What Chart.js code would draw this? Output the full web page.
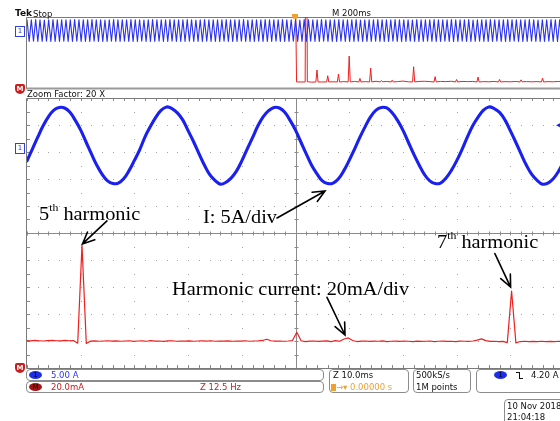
<!DOCTYPE html>
<html><head><meta charset="utf-8">
<script src="https://cdn.jsdelivr.net/npm/chart.js@4.4.0/dist/chart.umd.min.js"></script>
<style>
html,body{margin:0;padding:0;background:#fff;}
#page{position:relative;width:560px;height:421px;overflow:hidden;background:#fff;font-family:'DejaVu Sans',sans-serif;}
canvas{position:absolute;}
.t{position:absolute;white-space:nowrap;line-height:1;font-size:8.5px;color:#111;z-index:5;}
.ann{position:absolute;white-space:nowrap;line-height:1;font-family:'Liberation Serif','Times New Roman',serif;font-size:19px;color:#000;transform:scaleX(1.07);transform-origin:0 0;z-index:5;}
.sup{font-size:11px;position:relative;top:-9px;}
.box{position:absolute;border:1px solid #8c8c8c;border-radius:4px;box-sizing:border-box;z-index:4;}
.ell{position:absolute;width:13px;height:8px;border-radius:50%;font-size:7px;line-height:8px;text-align:center;z-index:6;}
.mk1{position:absolute;width:8px;height:9px;border:1px solid #3040e0;background:#fff;color:#3040e0;font-size:7px;line-height:9px;text-align:center;z-index:6;}
.mkM{position:absolute;width:10px;height:10px;background:#c81e1e;color:#fff;font-size:7px;font-weight:bold;line-height:10px;text-align:center;border-radius:2px 2px 5px 5px;z-index:6;}
</style></head>
<body>
<div id="page">
<canvas id="ov" width="547" height="81" style="left:22px;top:12px;"></canvas>
<canvas id="mn" width="547" height="280" style="left:22px;top:93px;"></canvas>

<div class="t" style="left:15px;top:9px;font-size:9px;font-weight:bold;">Tek</div>
<div class="t" style="left:33px;top:9.5px;">Stop</div>
<div class="t" style="left:332px;top:8.5px;">M 200ms</div>
<div class="t" style="left:27px;top:89.5px;">Zoom Factor: 20 X</div>
<div style="position:absolute;left:292px;top:14px;width:6px;height:5px;background:#f0a030;border-radius:0 0 3px 3px;z-index:6;"></div>

<div class="mk1" style="left:15px;top:26px;">1</div>
<div class="mkM" style="left:15px;top:84px;">M</div>
<div class="mk1" style="left:15px;top:143px;">1</div>
<div class="mkM" style="left:15px;top:363px;">M</div>

<div class="ann" style="left:39px;top:204px;">5<span class="sup">th</span> harmonic</div>
<div class="ann" style="left:203px;top:207px;">I: 5A/div</div>
<div class="ann" style="left:172px;top:279px;">Harmonic current: 20mA/div</div>
<div class="ann" style="left:437px;top:232px;">7<span class="sup">th</span> harmonic</div>

<div class="box" style="left:26px;top:369px;width:298px;height:12px;"></div>
<div class="box" style="left:26px;top:381px;width:298px;height:12px;"></div>
<div class="ell" style="left:29px;top:371px;background:#1e2ee8;color:#001;">1</div>
<div class="t" style="left:51px;top:370.5px;color:#2a32ee;">5.00 A</div>
<div class="ell" style="left:29px;top:383px;background:#a01515;color:#200;">M</div>
<div class="t" style="left:51px;top:383px;color:#c02020;">20.0mA</div>
<div class="t" style="left:200px;top:383px;color:#c02020;">Z 12.5 Hz</div>

<div class="box" style="left:329px;top:369px;width:80px;height:24px;"></div>
<div class="t" style="left:333px;top:370.5px;">Z 10.0ms</div>
<div style="position:absolute;left:331px;top:384px;width:5px;height:7px;background:#f0a030;z-index:6;"></div>
<div class="t" style="left:336px;top:383px;color:#f0a030;">→▾</div>
<div class="t" style="left:350px;top:383px;color:#f0a030;">0.00000 s</div>

<div class="box" style="left:413px;top:369px;width:58px;height:24px;"></div>
<div class="t" style="left:416px;top:370.5px;">500kS/s</div>
<div class="t" style="left:416px;top:383px;">1M points</div>

<div class="box" style="left:476px;top:369px;width:100px;height:24px;"></div>
<div class="ell" style="left:494px;top:371px;background:#1e2ee8;color:#001;">1</div>
<div style="position:absolute;left:516px;top:372px;width:3px;height:6px;border-top:1px solid #111;border-right:1px solid #111;z-index:6;"></div>
<div style="position:absolute;left:520px;top:378px;width:3px;height:0;border-top:1px solid #111;z-index:6;"></div>
<div class="t" style="left:531px;top:370.5px;">4.20 A</div>

<div class="box" style="left:504px;top:399px;width:70px;height:30px;"></div>
<div class="t" style="left:507px;top:401.5px;">10 Nov 2018</div>
<div class="t" style="left:507px;top:412.5px;">21:04:18</div>
</div>

<script>
// ---- Data ----
// Overview (M 200 ms/div): channel 1 current samples, A (aliased display)
const ovCurrentA = [
7.3,-7.9,7.2,-7.8,7.4,-8.0,7.3,-7.9,7.1,-7.8,7.3,-7.9,7.4,-8.0,7.2,-7.9,7.3,-7.8,7.3,-7.9,
7.2,-8.0,7.4,-7.8,7.3,-7.9,7.2,-7.9,7.3,-8.0,7.4,-7.8,7.2,-7.9,7.3,-7.9,7.1,-8.0,7.3,-7.8,
7.4,-7.9,7.2,-8.0,7.3,-7.8,7.3,-7.9,7.4,-7.9,7.2,-8.0,7.3,-7.8,7.1,-7.9,7.3,-8.0,7.4,-7.9,
7.2,-7.8,7.3,-7.9,7.3,-8.0,7.4,-7.8,7.2,-7.9,7.3,-7.9,7.2,-8.0,7.4,-7.8,7.3,-7.9,7.1,-7.9,
7.3,-8.0,7.4,-7.8,7.2,-7.9,7.3,-7.9,7.3,-8.0,7.2,-7.8,7.4,-7.9,7.3,-8.0,7.2,-7.9,7.3,-7.8,
7.4,-7.9,7.1,-8.0,7.3,-7.9,7.3,-7.8,7.2,-7.9,7.4,-8.0,7.3,-7.9,7.2,-7.8,7.3,-7.9,7.4,-8.0,
7.2,-7.9,7.3,-7.8,7.3,-7.9,7.1,-8.0,7.4,-7.9,7.2,-7.8,7.3,-7.9,7.3,-8.0,7.4,-7.8,7.2,-7.9,
7.3,-7.9,7.2,-8.0,7.4,-7.8,7.3,-7.9,7.2,-7.9,7.3,-8.0,7.4,-7.8,7.1,-7.9,7.3,-7.9,7.3,-8.0,
7.2,-7.8,7.4,-7.9,7.3,-8.0,7.2,-7.9,7.3,-7.8,7.4,-7.9,7.2,-8.0,7.3,-7.9,7.3,-7.8,7.1,-7.9,
7.4,-8.0,7.2,-7.9,7.3,-7.8,7.3,-7.9,7.4,-8.0,7.2,-7.9,7.3,-7.8,7.2,-7.9,7.4,-8.0,7.3,-7.9,
7.3,-7.8,7.2,-7.9,7.4,-8.0,7.1,-7.9,7.3,-7.8,7.3,-7.9,7.2,-8.0,7.4,-7.9,7.3,-7.8,7.2,-7.9,
7.3,-8.0,7.4,-7.9,7.2,-7.8,7.3,-7.9,7.3,-8.0,7.2,-7.9,7.4,-7.8,7.3,-7.9,7.1,-8.0,7.3,-7.9,
7.2,-7.8,7.4,-7.9,7.3,-8.0,7.2,-7.9,7.3
];
const ovSpanMs = 2000;

// Overview FFT of the math channel (frequency Hz, amplitude mA)
const ovFftHz = [0,5,45,50,55,60,75,95,100,105,120,145,150,155,175,195,200,205,225,245,250,255,275,295,300,305,325,345,350,355,375,395,400,405,425,445,450,455,475,500,525,545,550,555,575,600,625,645,650,655,675,700,725,745,750,755,775,800,825,845,850,855,875,900,925,945,950,955,975,1000,1025,1045,1050,1055,1075,1100,1125,1145,1150,1155,1175,1200,1225,1250];
const ovFftMa = [260,17,17,900,17,17.5,16.5,17,50.7,17,17,17,34.6,17,17.5,17,39.4,17,18,17,90,17,18.5,17,27,17,18,17,56,17,19,17,21,17.5,18.5,17,22,17,18,19.5,17.5,17,60,17,18.5,19,18,17,32,17,18.5,18,19,17,24,17,18.5,18,18.5,17,31,17,18,17.5,18.5,17,24,17,18,17.5,18.5,17,23,17.5,18,17.5,18,17,28,17,18,17.5,18.5,17.5];

// Zoom window: channel 1 current, one sample per ms (A), 10 ms/div
const mainCurrentA = [
-2.4,-0.2,2.0,4.1,5.8,7.0,7.5,7.4,6.6,5.1,3.3,1.1,-1.1,-3.2,-4.9,-6.1,-6.6,-6.5,-5.7,-4.2,
-2.3,-0.3,2.1,4.0,5.7,7.0,7.6,7.3,6.5,5.2,3.2,1.2,-1.0,-3.1,-4.9,-6.0,-6.7,-6.4,-5.6,-4.3,
-2.4,-0.2,1.9,4.1,5.8,6.9,7.5,7.4,6.6,5.1,3.3,1.1,-1.1,-3.2,-4.8,-6.1,-6.6,-6.5,-5.7,-4.2,
-2.3,-0.2,2.0,4.0,5.8,7.0,7.5,7.4,6.5,5.1,3.3,1.1,-1.1,-3.1,-4.9,-6.1,-6.6,-6.5,-5.6,-4.2,
-2.4,-0.3,2.0,4.1,5.7,7.0,7.6,7.3,6.6,5.2,3.2,1.1,-1.1,-3.2,-4.9,-6.0,-6.7,-6.5,-5.7,-4.3,
-2.4
];

// Zoom window: harmonic current spectrum, one bin per Hz from 237 Hz (mA), 12.5 Hz/div
const mainFftStartHz = 237;
const mainFftMa = [
20.3,20.1,20.4,20.2,20.0,20.3,20.5,20.2,20.1,20.4,20.2,20.3,18.4,91.0,18.2,19.9,20.1,19.8,20.0,20.2,
19.9,20.1,19.8,20.0,20.2,19.7,20.0,20.1,19.8,20.3,19.9,20.0,19.7,20.1,20.2,19.8,20.0,19.9,20.1,19.8,
20.0,20.1,19.9,20.2,19.8,20.0,19.9,20.1,19.8,20.0,19.9,20.2,19.8,20.0,20.1,20.4,21.3,20.2,19.9,20.0,
19.8,20.0,20.3,26.5,20.2,19.6,19.9,20.0,19.7,19.9,20.1,19.6,20.3,19.8,21.5,22.3,20.4,19.6,19.9,20.0,
19.7,19.9,19.8,20.1,19.6,19.8,19.9,19.7,20.0,19.8,19.6,19.9,19.7,19.8,20.0,19.6,19.8,19.9,19.7,19.8,
19.6,19.9,19.8,19.7,20.0,20.6,21.6,20.3,19.7,19.8,19.6,19.7,18.8,57.0,18.6,19.6,19.8,19.5,19.7,19.6,
19.8,19.5,19.7,19.6,19.8,19.5,19.7
];
const triggerLevelA = 4.20;

// Annotations: anchored at data points, with pixel offsets for tip and tail
const annotations = [
  {xs:'xf', ys:'yM', x:250,  y:91,   tip:[0.5,-1.2], tail:[24.5,-23]},
  {xs:'xt', ys:'yI', x:56.3, y:-6.6, tip:[-4.3,7.4], tail:[-48,27]},
  {xs:'xf', ys:'yM', x:311.5,y:22.3, tip:[-1.2,-2.9], tail:[-18,-37.7]},
  {xs:'xf', ys:'yM', x:350,  y:57,   tip:[-1,-4], tail:[-15.7,-33.5]}
];

// ---- Scales (5 A/div, 20 mA/div, 10 divisions) ----
const I_MIN = -40.75, I_MAX = 9.25;
const BLUE = '#1a20f0', RED = '#ee2020';

const common = {
  responsive:false, animation:false, events:[],
  devicePixelRatio:1,
  layout:{padding:5},
  plugins:{legend:{display:false}, tooltip:{enabled:false}},
  elements:{point:{radius:0}, line:{borderJoinStyle:'round', borderCapStyle:'round'}}
};

// Overview chart
const ovPlugin = {
  id:'ovframe',
  beforeDatasetsDraw(chart){
    const {ctx, chartArea:a} = chart;
    ctx.save();
    ctx.strokeStyle = '#7c7c7c'; ctx.lineWidth = 1;
    ctx.beginPath();
    ctx.moveTo(a.left-0.5, a.bottom); ctx.lineTo(a.left-0.5, a.top+0.5); ctx.lineTo(a.right+5, a.top+0.5);
    ctx.stroke();
    ctx.fillStyle = '#9a9a9a';
    ctx.fillRect(a.left-1, a.bottom-0.5, a.right-a.left+6, 2);
    ctx.restore();
  }
};
new Chart(document.getElementById('ov'), {
  type:'line',
  data:{datasets:[
    {data: ovCurrentA.map((v,i)=>({x: i*ovSpanMs/(ovCurrentA.length-1), y:v})), xAxisID:'xt', yAxisID:'yI', borderColor:'#2a30f4', borderWidth:1.1, tension:0},
    {data: ovFftHz.map((f,i)=>({x:f, y:ovFftMa[i]})), xAxisID:'xf', yAxisID:'yM', borderColor:RED, borderWidth:1, tension:0}
  ]},
  options:Object.assign({}, common, {
    scales:{
      xt:{type:'linear', axis:'x', min:0, max:ovSpanMs, display:false},
      xf:{type:'linear', axis:'x', min:-1250, max:1250, display:false},
      yI:{type:'linear', axis:'y', min:I_MIN, max:I_MAX, display:false},
      yM:{type:'linear', axis:'y', min:0, max:200, display:false}
    }
  }),
  plugins:[ovPlugin]
});

// Main (zoom) chart with graticule
const grat = {
  id:'grat',
  beforeDatasetsDraw(chart){
    const {ctx, chartArea:a, scales:s} = chart;
    const X = v=>s.xt.getPixelForValue(v), Y = v=>s.yd.getPixelForValue(v);
    ctx.save();
    ctx.fillStyle = '#a4a4a4';
    for(let d=10; d<=100; d+=10){
      if(d===50) continue;
      const px = Math.round(X(d));
      for(let v=-5; v<=5.001; v+=0.5) ctx.fillRect(px, Math.round(Y(v)), 1, 1);
    }
    for(let d=-4; d<=4; d++){
      if(d===0) continue;
      const py = Math.round(Y(d));
      for(let t=0; t<=100; t+=2) ctx.fillRect(Math.round(X(t)), py, 1, 1);
    }
    // centre cross
    ctx.strokeStyle = '#8a8a8a'; ctx.lineWidth = 1;
    const cx = Math.round(X(50))+0.5, cy = Math.round(Y(0))+0.5;
    ctx.beginPath();
    ctx.moveTo(a.left, cy); ctx.lineTo(a.right, cy);
    ctx.moveTo(cx, a.top); ctx.lineTo(cx, a.bottom);
    for(let t=0; t<=100; t+=2){ const px=Math.round(X(t))+0.5; ctx.moveTo(px, cy-2); ctx.lineTo(px, cy+2);
      ctx.moveTo(px, a.top); ctx.lineTo(px, a.top+3); ctx.moveTo(px, a.bottom); ctx.lineTo(px, a.bottom-3); }
    for(let v=-5; v<=5.001; v+=0.5){ const py=Math.round(Y(v))+0.5; ctx.moveTo(cx-2, py); ctx.lineTo(cx+2, py);
      ctx.moveTo(a.left, py); ctx.lineTo(a.left+3, py); }
    ctx.stroke();
    // border
    ctx.strokeStyle = '#7a7a7a';
    ctx.beginPath();
    ctx.moveTo(a.right+5, a.top+0.5); ctx.lineTo(a.left-0.5, a.top+0.5); ctx.lineTo(a.left-0.5, a.bottom+0.5); ctx.lineTo(a.right+5, a.bottom+0.5);
    ctx.stroke();
    ctx.restore();
  },
  afterDatasetsDraw(chart){
    const {ctx, chartArea:a, scales:s} = chart;
    ctx.save();
    // trigger level marker at right edge
    const ty = s.yI.getPixelForValue(triggerLevelA);
    ctx.fillStyle = BLUE;
    ctx.beginPath(); ctx.moveTo(a.right-8, ty); ctx.lineTo(a.right-3, ty-2.5); ctx.lineTo(a.right-3, ty+2.5); ctx.closePath(); ctx.fill();
    // annotation arrows
    ctx.strokeStyle = '#000'; ctx.lineWidth = 1.6; ctx.lineCap = 'round';
    annotations.forEach(an=>{
      const x2 = s[an.xs].getPixelForValue(an.x) + an.tip[0];
      const y2 = s[an.ys].getPixelForValue(an.y) + an.tip[1];
      const x1 = x2 + an.tail[0], y1 = y2 + an.tail[1];
      const ang = Math.atan2(y2-y1, x2-x1), L = 13, sp = 0.42;
      ctx.beginPath();
      ctx.moveTo(x1, y1); ctx.lineTo(x2, y2);
      ctx.moveTo(x2 - L*Math.cos(ang-sp), y2 - L*Math.sin(ang-sp));
      ctx.lineTo(x2, y2);
      ctx.lineTo(x2 - L*Math.cos(ang+sp), y2 - L*Math.sin(ang+sp));
      ctx.stroke();
    });
    ctx.restore();
  }
};
new Chart(document.getElementById('mn'), {
  type:'line',
  data:{datasets:[
    {data: mainCurrentA.map((v,i)=>({x:i, y:v})), xAxisID:'xt', yAxisID:'yI', borderColor:BLUE, borderWidth:3.1, tension:0.4},
    {data: mainFftMa.map((v,i)=>({x:mainFftStartHz+i, y:v})), xAxisID:'xf', yAxisID:'yM', borderColor:RED, borderWidth:1.2, tension:0}
  ]},
  options:Object.assign({}, common, {
    scales:{
      xt:{type:'linear', axis:'x', min:0, max:100, display:false},
      xf:{type:'linear', axis:'x', min:237.2, max:362.2, display:false},
      yI:{type:'linear', axis:'y', min:I_MIN, max:I_MAX, display:false},
      yM:{type:'linear', axis:'y', min:0, max:200, display:false},
      yd:{type:'linear', axis:'y', min:-5, max:5, display:false}
    }
  }),
  plugins:[grat]
});
</script>
</body></html>
